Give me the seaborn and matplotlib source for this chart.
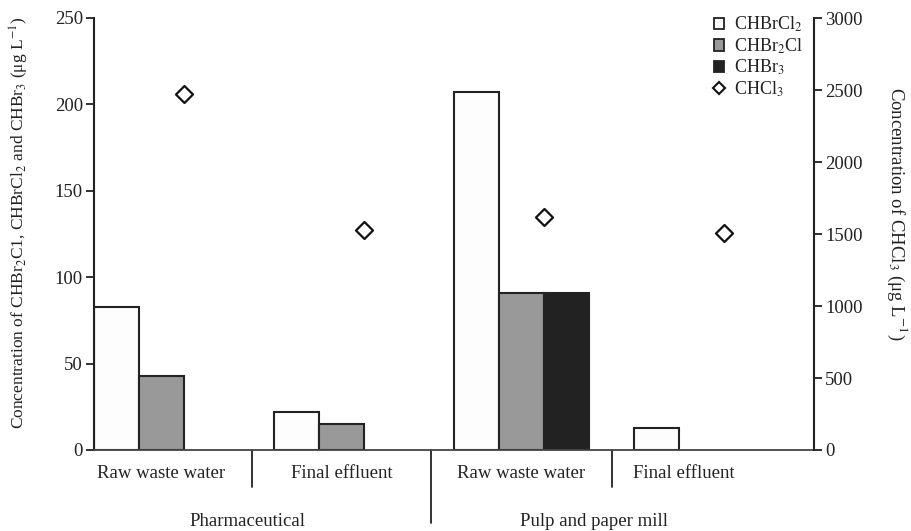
import numpy as np
import pandas as pd
import matplotlib
matplotlib.use("Agg")
import matplotlib.pyplot as plt
from matplotlib.patches import Patch
from matplotlib.lines import Line2D
import seaborn as sns

# Sample sites (industry / treatment stage)
stages = ["Raw waste water", "Final effluent", "Raw waste water", "Final effluent"]
industries = ["Pharmaceutical", "Pulp and paper mill"]
site_ids = ["P-raw", "P-final", "M-raw", "M-final"]

# Brominated THMs (left axis, µg/L); NaN = not detected
chbrcl2 = [83, 22, 207, 13]
chbr2cl = [43, 15, 91, np.nan]
chbr3 = [np.nan, np.nan, 91, np.nan]

# Chloroform (right axis, µg/L)
chcl3 = [2470, 1530, 1620, 1510]

species = ["CHBrCl$_2$", "CHBr$_2$Cl", "CHBr$_3$"]
colors = ["#fdfdfd", "#999999", "#222222"]

sns.set_theme(style="white")
plt.rcParams["font.family"] = ["Liberation Serif", "DejaVu Serif"]
plt.rcParams["mathtext.fontset"] = "stix"

df = pd.DataFrame({
    "site": np.repeat(site_ids, 3),
    "species": species * 4,
    "value": np.ravel(np.column_stack([chbrcl2, chbr2cl, chbr3])),
})

fig = plt.figure(figsize=(9.11, 5.31), dpi=100)
ax = fig.add_axes([94 / 911, 81 / 531, 720 / 911, 432 / 531])

sns.barplot(data=df, x="site", y="value", hue="species", order=site_ids,
            hue_order=species, palette=colors, width=0.75, ax=ax,
            edgecolor="#222222", linewidth=1.5, legend=False, errorbar=None)

ax.set_xlim(-0.375, 3.625)
ax.set_ylim(0, 250)
ax.set_yticks([0, 50, 100, 150, 200, 250])
ax.set_xticks([])
ax.set_xlabel("")
ax.set_ylabel("Concentration of CHBr$_2$C1, CHBrCl$_2$ and CHBr$_3$ (μg L$^{-1}$)",
              fontsize=12.5, color="#222222")
ax.yaxis.set_label_coords(-0.103, 0.525)
ax.yaxis.label.set_verticalalignment("center")
ax.tick_params(axis="y", direction="out", length=6, width=1.3, colors="#222222",
               labelsize=13.5, left=True, pad=2)
for s in ["top", "right"]:
    ax.spines[s].set_visible(False)
ax.spines["left"].set_linewidth(1.5)
ax.spines["left"].set_color("#222222")
ax.spines["bottom"].set_linewidth(1.3)
ax.spines["bottom"].set_color("#444444")

# Chloroform on a secondary axis
ax2 = ax.twinx()
sns.scatterplot(x=np.arange(4) + 0.125, y=chcl3, marker="D", s=75,
                facecolor="white", edgecolor="#111111", linewidth=1.6, ax=ax2,
                zorder=5)
ax2.set_ylim(0, 3000)
ax2.set_yticks([0, 500, 1000, 1500, 2000, 2500, 3000])
ax2.set_ylabel("Concentration of CHCl$_3$ (μg L$^{-1}$)", fontsize=13.5,
               color="#222222", rotation=270)
ax2.yaxis.set_label_coords(1.115, 0.548)
ax2.yaxis.label.set_verticalalignment("center")
ax2.tick_params(axis="y", direction="out", length=6, width=1.3, colors="#222222",
                labelsize=13.5, right=True, pad=2)
for s in ["top", "left", "bottom"]:
    ax2.spines[s].set_visible(False)
ax2.spines["right"].set_linewidth(1.5)
ax2.spines["right"].set_color("#222222")

# Category annotations below the axis
trans = ax.get_xaxis_transform()
label_x = [0.0, 1.0, 2.0, 2.9]
for x, lab in zip(label_x, stages):
    ax.text(x, -0.055, lab, transform=trans, ha="center", va="center",
            fontsize=13.5, color="#222222")
for x, y1 in [(0.5, -0.086), (1.5, -0.169), (2.5, -0.086)]:
    ax.plot([x, x], [0, y1], transform=trans, color="#222222", lw=1.3,
            clip_on=False)
for x, lab in zip([0.475, 2.4], industries):
    ax.text(x, -0.166, lab, transform=trans, ha="center", va="center",
            fontsize=13.5, color="#222222")

handles = [Patch(facecolor=c, edgecolor="#222222", linewidth=1.3) for c in colors]
handles.append(Line2D([], [], marker="D", linestyle="none", markersize=6,
                      markerfacecolor="white", markeredgecolor="#111111",
                      markeredgewidth=1.5))
leg = fig.legend(handles, species + ["CHCl$_3$"], loc="upper left",
                 bbox_to_anchor=(701 / 911, 1 - 2 / 531), frameon=False,
                 fontsize=13, handlelength=0.6, handleheight=0.6,
                 handletextpad=0.5, labelspacing=0.12, borderpad=0.2)
for t in leg.get_texts():
    t.set_color("#222222")

fig.savefig("out.png", dpi=100, facecolor="white")
